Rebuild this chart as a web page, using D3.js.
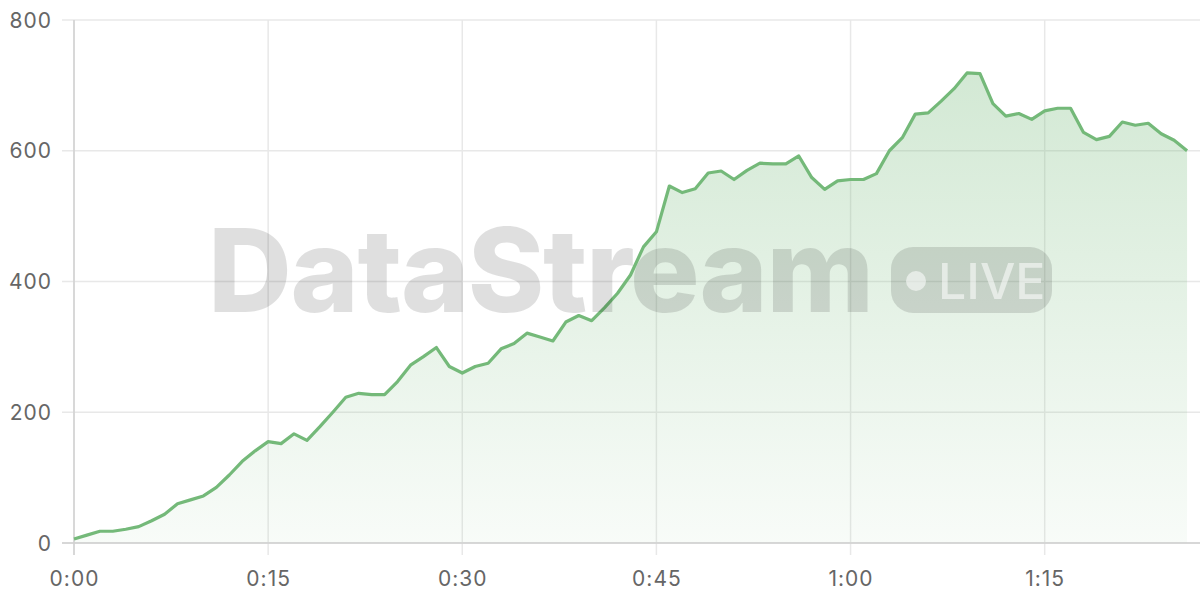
<!DOCTYPE html>
<html>
<head>
<meta charset="utf-8">
<script src="https://cdn.jsdelivr.net/npm/d3@7"></script>
<style>
html,body{margin:0;padding:0;background:#fff;}
svg{display:block;}
</style>
</head>
<body>
<svg id="chart" width="1200" height="600"></svg>
<script>
const values = [6,12,18,18,21,25,34,44,60,66,72,85,104,125,141,155,152,167,157,178,200,223,229,227,227,247,272,285,299,270,260,270,275,297,305,321,315,309,338,348,340,360,382,410,453,476,546,536,542,566,569,556,570,581,580,580,592,559,541,554,556,556,565,600,620,656,658,676,695,719,718,672,653,657,648,661,665,665,628,617,622,644,639,642,626,616,600];
const xTicks = [0,15,30,45,60,75];
const xTickLabels = ["0:00","0:15","0:30","0:45","1:00","1:15"];
const yTicks = [0,200,400,600,800];

const svg = d3.select("#chart");
const W = 1200, H = 600;
const m = {left:74, right:0, top:20, bottom:57};
const x = d3.scaleLinear().domain([0,87]).range([m.left, W - m.right]);
const y = d3.scaleLinear().domain([0,800]).range([H - m.bottom, m.top]);
const font = "Inter, 'Liberation Sans', Arial, sans-serif";

const defs = svg.append("defs");
const grad = defs.append("linearGradient").attr("id","fillGrad").attr("x1",0).attr("y1",0).attr("x2",0).attr("y2",1);
grad.append("stop").attr("offset","0%").attr("stop-color","#74b979").attr("stop-opacity",0.32);
grad.append("stop").attr("offset","100%").attr("stop-color","#74b979").attr("stop-opacity",0.05);

// grid
const grid = svg.append("g");
grid.selectAll("line.h").data(yTicks).join("line")
  .attr("x1", m.left - 12).attr("x2", W)
  .attr("y1", d => y(d)).attr("y2", d => y(d))
  .attr("stroke", "#e8e8e8").attr("stroke-width", 1.5);
grid.selectAll("line.v").data(xTicks).join("line")
  .attr("x1", d => x(d)).attr("x2", d => x(d))
  .attr("y1", m.top).attr("y2", y(0) + 12)
  .attr("stroke", "#e8e8e8").attr("stroke-width", 1.5);

// area + line
const data = values.map((v,i)=>({i, v}));
svg.append("path").datum(data)
  .attr("d", d3.area().x(d=>x(d.i)).y0(y(0)).y1(d=>y(d.v)))
  .attr("fill","url(#fillGrad)");

// axes lines
svg.append("line").attr("x1", m.left - 12).attr("x2", W).attr("y1", y(0)).attr("y2", y(0))
  .attr("stroke","#cfcfcf").attr("stroke-width",1.5);
svg.append("line").attr("x1", m.left).attr("x2", m.left).attr("y1", m.top).attr("y2", y(0)+12)
  .attr("stroke","#d0d0d0").attr("stroke-width",1.5);

svg.append("path").datum(data)
  .attr("d", d3.line().x(d=>x(d.i)).y(d=>y(d.v)))
  .attr("fill","none").attr("stroke","#74b979").attr("stroke-width",3.2)
  .attr("stroke-linejoin","round");

// tick labels
svg.append("g").selectAll("text").data(yTicks).join("text")
  .attr("x", 52).attr("y", d => y(d)).attr("dy","0.36em")
  .attr("text-anchor","end").attr("font-family",font).attr("font-size",21)
  .attr("letter-spacing",1).attr("fill","#666").text(d=>d);
svg.append("g").selectAll("text").data(xTicks).join("text")
  .attr("x", d=>x(d)+0.5).attr("y", 586)
  .attr("text-anchor","middle").attr("font-family",font).attr("font-size",21)
  .attr("letter-spacing",1).attr("fill","#666").text((d,i)=>xTickLabels[i]);

// watermark
const wm = svg.append("g").attr("pointer-events","none");
wm.append("text").attr("x",208).attr("y",312)
  .attr("font-family","Inter, 'Liberation Sans', Arial, sans-serif").attr("font-weight",800)
  .attr("font-size",116).attr("letter-spacing",-4)
  .attr("textLength",662).attr("lengthAdjust","spacing")
  .attr("fill","#000").attr("fill-opacity",0.125).text("DataStream");
wm.append("rect").attr("x",891).attr("y",247).attr("width",161).attr("height",66).attr("rx",22)
  .attr("fill","#000").attr("fill-opacity",0.125);
wm.append("circle").attr("cx",916).attr("cy",281).attr("r",10)
  .attr("fill","#fff").attr("fill-opacity",0.55);
wm.append("text").attr("x",938).attr("y",299)
  .attr("font-family","Inter, 'Liberation Sans', Arial, sans-serif").attr("font-weight",500)
  .attr("font-size",50).attr("fill","#fff").attr("fill-opacity",0.55).text("LIVE");
</script>
</body>
</html>
